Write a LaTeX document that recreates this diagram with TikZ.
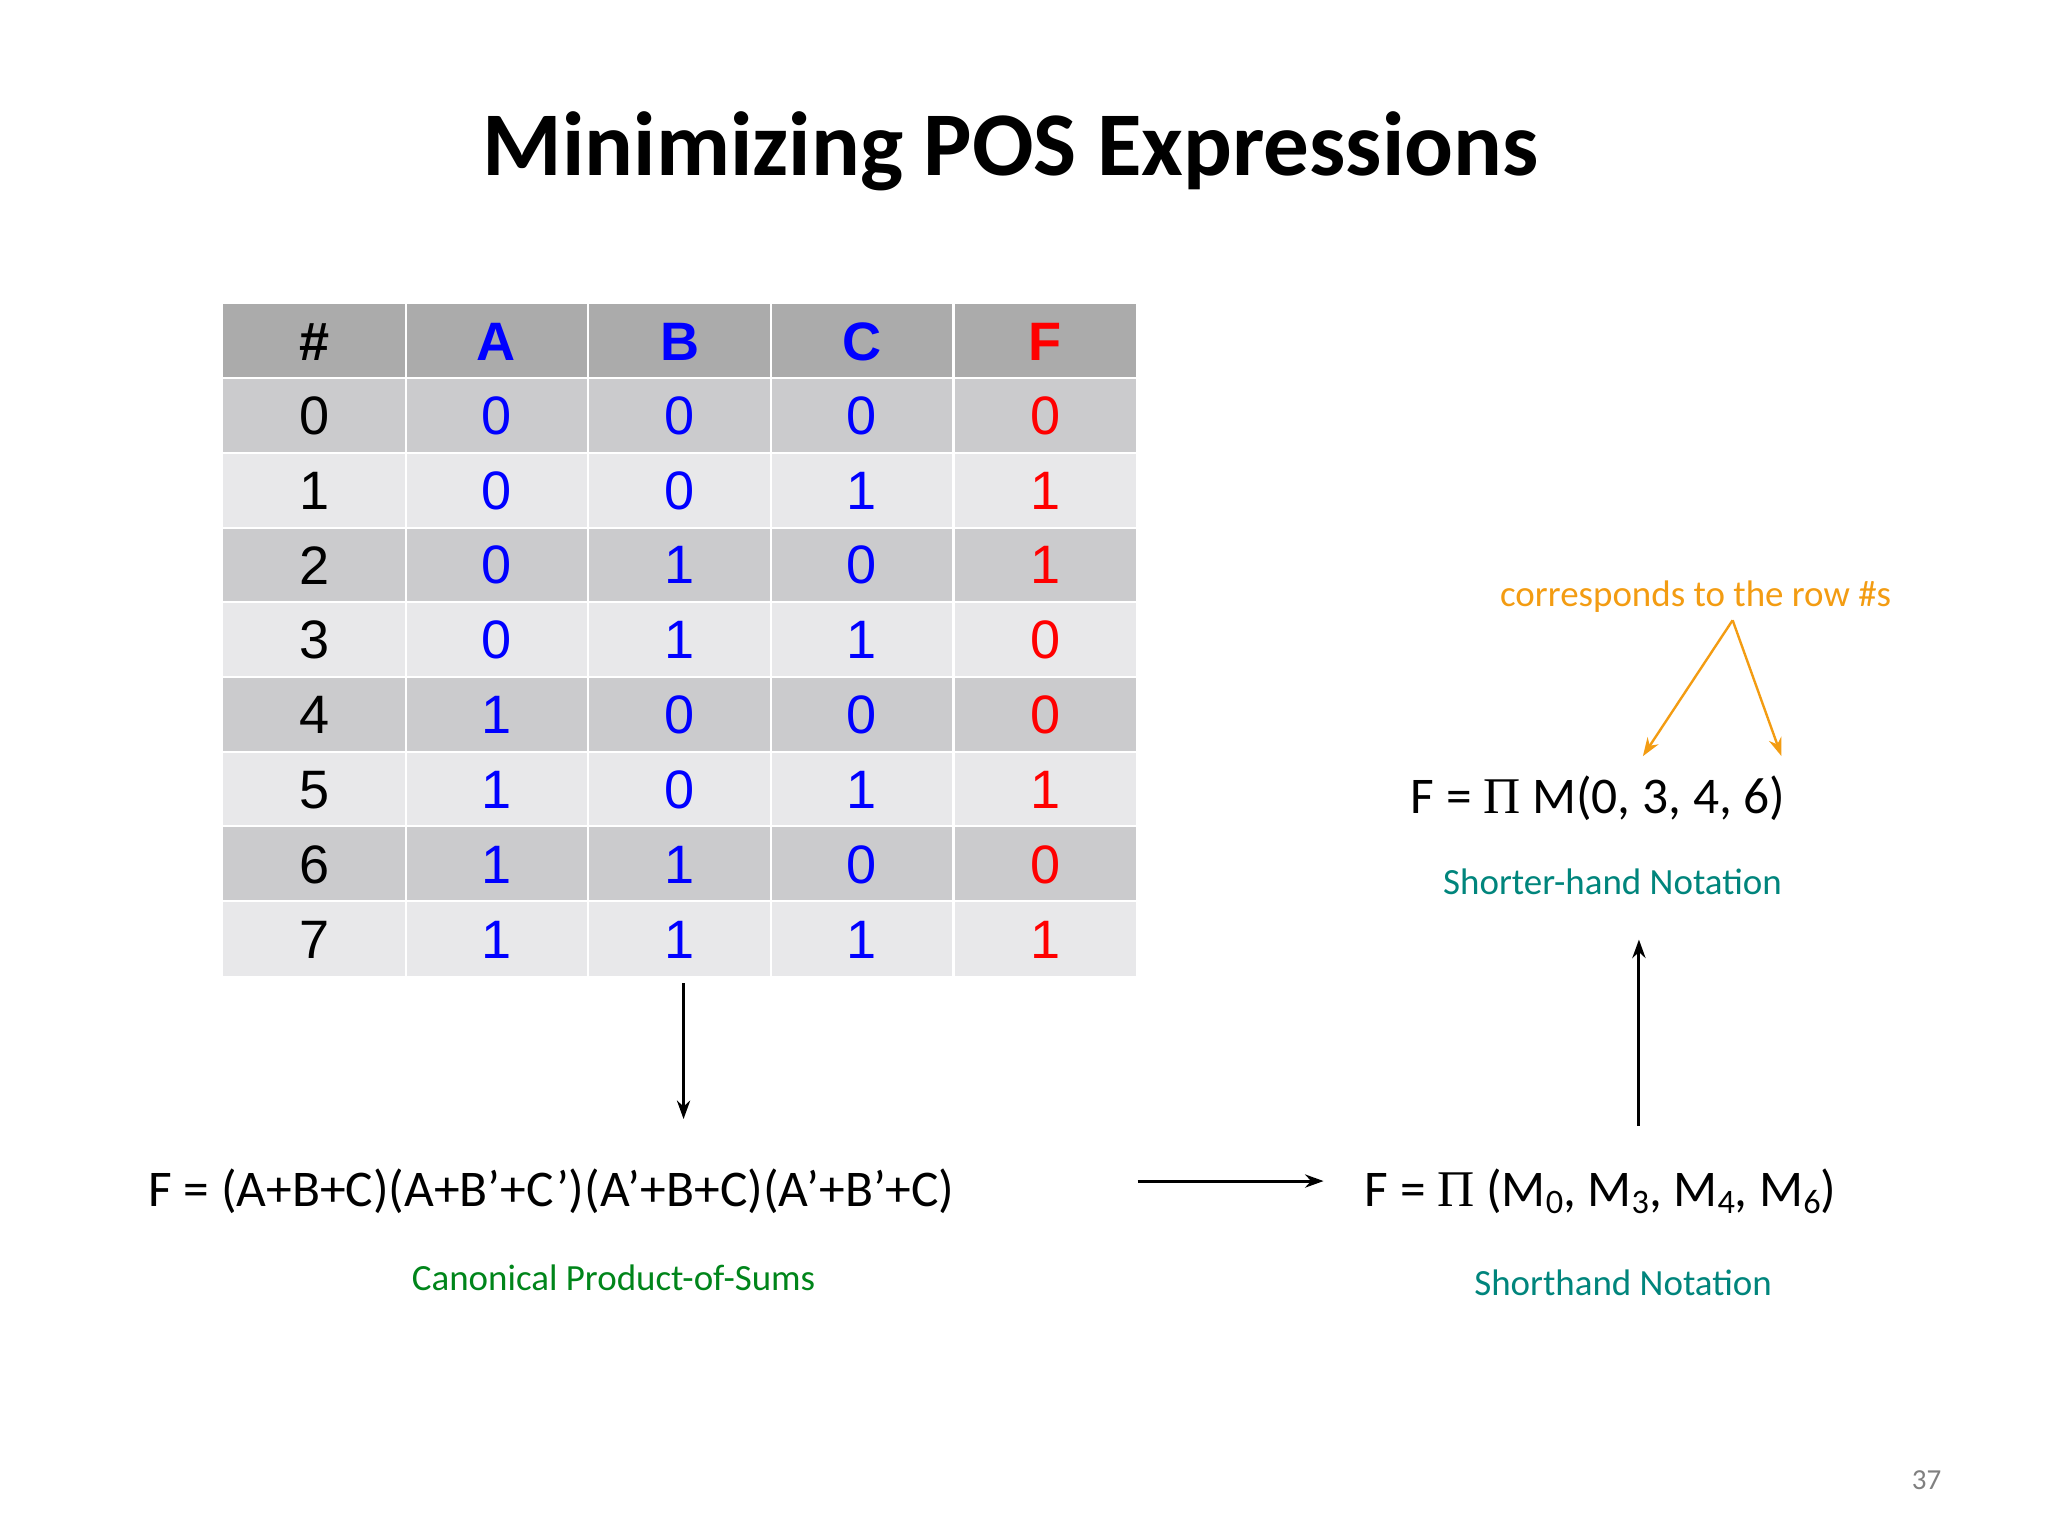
\documentclass[tikz,border=0pt]{standalone}
\usepackage{fontspec}
\setmainfont{Carlito}
\newfontfamily\arial{Liberation Sans}
\newfontfamily\tms{Liberation Serif}
\usetikzlibrary{arrows.meta}
\definecolor{hdr}{HTML}{ABABAB}
\definecolor{rowa}{HTML}{CBCBCD}
\definecolor{rowb}{HTML}{E8E8EA}
\definecolor{tealc}{HTML}{00857C}
\definecolor{greenc}{HTML}{00851A}
\definecolor{orangec}{HTML}{F39C12}
\definecolor{blu}{HTML}{0000FF}
\definecolor{rd}{HTML}{FF0000}
\newcommand{\pr}{\char"27}
\newcommand{\sbs}[1]{\raisebox{-0.3ex}{\fontsize{13}{15}\selectfont #1}}
\tikzset{
  cell/.style={font=\arial\fontsize{20.5}{24}\selectfont},
  hcell/.style={font=\arial\bfseries\fontsize{20.5}{24}\selectfont},
  formula/.style={font=\fontsize{19.5}{24}\selectfont},
  lbl/.style={font=\fontsize{14}{16}\selectfont},
  arr/.style={-{Stealth[length=7pt,width=5pt]},line width=1.1pt},
  oarr/.style={-{Stealth[length=7pt,width=5pt]},line width=0.9pt,draw=orangec}
}
\begin{document}
\begin{tikzpicture}[x=0.5pt,y=-0.5pt]
\useasboundingbox[fill=white] (0,0) rectangle (1552,1164);
\node[font=\bfseries\fontsize{34.5}{40}\selectfont] (title) at (766,115) {Minimizing POS Expressions};
% table
\fill[hdr] (169,230) rectangle (861,287);
\foreach \r in {0,...,7}{
  \pgfmathsetmacro{\yt}{287+\r*56.6}
  \pgfmathtruncatemacro{\odd}{mod(\r,2)}
  \ifnum\odd=0 \fill[rowa] (169,\yt) rectangle (861,\yt+56.6); \else \fill[rowb] (169,\yt) rectangle (861,\yt+56.6);\fi
}
\foreach \c in {1,...,4}{\draw[white,line width=0.8pt] (169+\c*138.4,230) -- (169+\c*138.4,740);}
\foreach \r in {1,...,8}{\draw[white,line width=0.8pt] (169,230+\r*56.6) -- (861,230+\r*56.6);}
\node[hcell] (h0) at (238,259) {\#};
\node[hcell,text=blu] (h1) at (376,259) {A};
\node[hcell,text=blu] (h2) at (515,259) {B};
\node[hcell,text=blu] (h3) at (653,259) {C};
\node[hcell,text=rd] (h4) at (792,259) {F};
\foreach \n/\a/\b/\c/\f [count=\i from 0] in {0/0/0/0/0,1/0/0/1/1,2/0/1/0/1,3/0/1/1/0,4/1/0/0/0,5/1/0/1/1,6/1/1/0/0,7/1/1/1/1}{
  \pgfmathsetmacro{\yc}{315+\i*56.7}
  \node[cell] (n\i) at (238,\yc) {\n};
  \node[cell,text=blu] (a\i) at (376,\yc) {\a};
  \node[cell,text=blu] (b\i) at (515,\yc) {\b};
  \node[cell,text=blu] (c\i) at (653,\yc) {\c};
  \node[cell,text=rd] (f\i) at (792,\yc) {\f};
}
\coordinate (tbot) at (518,745);
% formulas
\node[formula] (pos) at (418,903) {F = (A+B+C)(A+B\pr+C\pr)(A\pr+B+C)(A\pr+B\pr+C)};
\node[lbl,text=greenc] (poslbl) at (465,968) {Canonical Product-of-Sums};
\node[formula] (sh) at (1213,903) {F = {\tms Π} (M\sbs{0}, M\sbs{3}, M\sbs{4}, M\sbs{6})};
\node[lbl,text=tealc] (shlbl) at (1230,972) {Shorthand Notation};
\node[formula] (shr) at (1211,605) {F = {\tms Π} M(0, 3, 4, 6)};
\node[lbl,text=tealc] (shrlbl) at (1222,668) {Shorter-hand Notation};
\node[lbl,text=orangec] (corr) at (1285,452) {corresponds to the row \#s};
\node[font=\fontsize{11}{13}\selectfont,text=gray] (pg) at (1460,1122) {37};
\coordinate (dA) at (518,848);
\coordinate (rA) at (862,895);
\coordinate (rB) at (1003,895);
\coordinate (uA) at (1242,853);
\coordinate (uB) at (1242,712);
\coordinate (oS) at (1313,470);
\coordinate (o1) at (1245,573);
\coordinate (o2) at (1350,573);
\draw[arr] (tbot) -- (dA);
\draw[arr] (rA) -- (rB);
\draw[arr] (uA) -- (uB);
\draw[oarr] (oS) -- (o1);
\draw[oarr] (oS) -- (o2);
\end{tikzpicture}
\end{document}
